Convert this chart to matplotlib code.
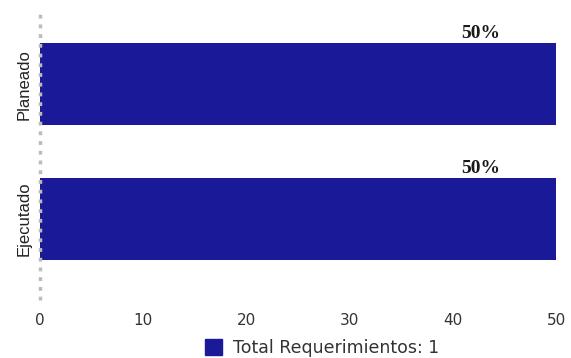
import matplotlib
matplotlib.use('Agg')
import matplotlib.pyplot as plt
from matplotlib.patches import Patch

categories = ['Ejecutado', 'Planeado']
values = [50, 50]
percent_labels = ['50%', '50%']
xticks = [0, 10, 20, 30, 40, 50]
legend_label = 'Total Requerimientos: 1'

bar_color = '#1a1a99'

plt.rcParams['font.family'] = ['DejaVu Sans']

fig = plt.figure(figsize=(5.71, 3.58), dpi=100)
ax = fig.add_axes([0.070, 0.162, 0.904, 0.804])

pos = range(len(categories))
ax.barh(pos, values, height=0.61, color=bar_color, zorder=2)

for y, v, lab in zip(pos, values, percent_labels):
    ax.annotate(lab, xy=(v, y + 0.305), xytext=(-40, 1),
                textcoords='offset points', ha='right', va='bottom',
                fontsize=14, fontweight='bold', family='Liberation Serif',
                color='#1a1a1a')

ax.set_xlim(0, 50)
ax.set_ylim(-0.6, 1.535)
ax.set_xticks(xticks)
ax.set_xticklabels([str(t) for t in xticks], fontsize=11, color='#333333')
ax.set_yticks(list(pos))
ax.set_yticklabels(categories, rotation=90, va='center', fontsize=12,
                   color='#222222', family='Liberation Sans')
ax.tick_params(axis='both', length=0)
ax.tick_params(axis='x', pad=9)
ax.tick_params(axis='y', pad=6)

for side in ['top', 'right', 'bottom']:
    ax.spines[side].set_visible(False)
left = ax.spines['left']
left.set_linestyle((0, (1.1, 1.7)))
left.set_capstyle('butt')
left.set_color('#bbbbbb')
left.set_linewidth(2.5)
left.set_zorder(3)

handle = Patch(facecolor=bar_color, edgecolor=bar_color)
leg = fig.legend([handle], [legend_label], loc='center',
                 bbox_to_anchor=(322 / 571, 1 - 348 / 358), frameon=False,
                 fontsize=12.5, handlelength=1.0, handleheight=1.0,
                 handletextpad=0.6)
for t in leg.get_texts():
    t.set_color('#333333')

fig.savefig('out.png', dpi=100)
